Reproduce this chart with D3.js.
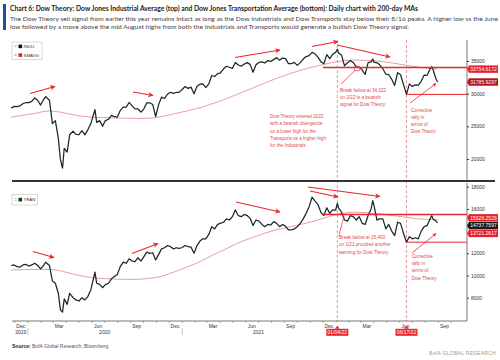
<!DOCTYPE html>
<html><head><meta charset="utf-8">
<script src="https://cdn.jsdelivr.net/npm/d3@7"></script>
<style>body{margin:0;background:#fff}svg{display:block}</style>
</head><body>
<svg id="c" width="500" height="360"></svg>
<script>
// ---------------- DATA ----------------
const dates = ["2019-11-22","2019-11-29","2019-12-06","2019-12-13","2019-12-20","2019-12-27","2020-01-03","2020-01-10","2020-01-17","2020-01-24","2020-01-31","2020-02-07","2020-02-12","2020-02-21","2020-02-28","2020-03-06","2020-03-13","2020-03-18","2020-03-23","2020-03-27","2020-04-03","2020-04-09","2020-04-17","2020-04-24","2020-05-01","2020-05-08","2020-05-15","2020-05-22","2020-05-29","2020-06-08","2020-06-12","2020-06-19","2020-06-26","2020-07-02","2020-07-10","2020-07-17","2020-07-24","2020-07-31","2020-08-07","2020-08-14","2020-08-21","2020-08-28","2020-09-04","2020-09-11","2020-09-18","2020-09-25","2020-10-02","2020-10-09","2020-10-16","2020-10-23","2020-10-30","2020-11-06","2020-11-13","2020-11-20","2020-11-27","2020-12-04","2020-12-11","2020-12-18","2020-12-24","2020-12-31","2021-01-08","2021-01-15","2021-01-22","2021-01-29","2021-02-05","2021-02-12","2021-02-19","2021-02-26","2021-03-05","2021-03-12","2021-03-19","2021-03-26","2021-04-01","2021-04-09","2021-04-16","2021-04-23","2021-04-30","2021-05-07","2021-05-14","2021-05-21","2021-05-28","2021-06-04","2021-06-11","2021-06-18","2021-06-25","2021-07-02","2021-07-09","2021-07-16","2021-07-23","2021-07-30","2021-08-06","2021-08-13","2021-08-20","2021-08-27","2021-09-03","2021-09-10","2021-09-17","2021-09-24","2021-10-01","2021-10-08","2021-10-15","2021-10-22","2021-10-29","2021-11-05","2021-11-12","2021-11-19","2021-11-26","2021-12-03","2021-12-10","2021-12-17","2021-12-23","2021-12-31","2022-01-04","2022-01-07","2022-01-14","2022-01-21","2022-01-28","2022-02-04","2022-02-11","2022-02-18","2022-02-25","2022-03-04","2022-03-11","2022-03-18","2022-03-25","2022-03-29","2022-04-01","2022-04-08","2022-04-14","2022-04-22","2022-04-29","2022-05-06","2022-05-13","2022-05-20","2022-05-27","2022-06-03","2022-06-10","2022-06-17","2022-06-24","2022-07-01","2022-07-08","2022-07-15","2022-07-22","2022-07-29","2022-08-05","2022-08-12","2022-08-16","2022-08-19","2022-08-26","2022-08-30"];
const induValues = [27766,28051,28015,28135,28455,28645,28634,28823,29348,28989,28256,29102,29551,28992,25409,25865,23185,19899,18591,21637,21053,23719,24242,23775,23724,24331,23685,24465,25383,27572,25605,25871,25016,25827,26075,26672,26470,26428,27433,27931,27930,28654,28133,27666,27657,27174,27683,28587,28606,28336,26502,28323,29480,29263,29910,30218,30046,30179,30200,30606,31098,30814,30997,29983,31148,31458,31494,30932,31496,32779,32628,33072,33153,33801,34200,34043,33875,34778,34382,34208,34529,34756,34480,33290,34433,34786,34870,34688,35062,34935,35208,35515,35120,35455,35369,34607,34584,34798,34326,34746,35295,35677,35820,36328,36100,35602,34899,34580,35971,35365,35951,36338,36800,36231,35912,34265,34725,35089,34738,34079,34059,33615,32944,34754,34861,35294,34818,34721,34451,33811,32977,32900,32197,31262,33213,32900,31393,29888,31501,31097,31338,31289,31899,32845,32803,33761,34152,33707,32283,31786];
const tranValues = [10900,10950,10800,10750,10950,11000,10850,10950,11100,10900,10600,10900,11200,10900,9500,9300,8400,6900,6700,7900,7400,8400,8000,7800,7700,8000,7800,8100,8700,10300,9300,9200,8900,9150,9300,9700,9900,10100,10800,11200,11100,11500,11300,11250,11600,11300,11700,12100,12000,12050,11400,11900,12400,12500,12700,12600,12400,12500,12450,12500,12700,12600,12550,12000,12700,13100,13300,13300,13700,14400,14200,14600,14700,14800,15100,15000,15300,15900,15400,15300,15500,15400,15150,14500,15000,14900,14600,14400,14600,14550,14850,14700,14400,14600,14450,14100,14100,14200,14400,14700,15100,15600,16200,17050,16700,16400,15700,15400,16100,15600,15900,15900,16500,16100,15700,15000,14900,15400,15300,15000,15300,14700,14600,15400,16000,16750,16300,15000,15100,15100,14200,14600,14000,13600,14800,14700,13800,13000,13500,13300,13400,13300,14000,14400,14500,15100,15400,15100,14900,14738];
const smaDates = ["2019-11-22","2019-12-15","2020-01-15","2020-02-20","2020-03-20","2020-04-15","2020-05-15","2020-06-15","2020-07-15","2020-08-15","2020-09-15","2020-10-15","2020-11-15","2020-12-15","2021-01-15","2021-02-15","2021-03-15","2021-04-15","2021-05-15","2021-06-15","2021-07-15","2021-08-15","2021-09-15","2021-10-15","2021-11-15","2021-12-15","2022-01-15","2022-02-15","2022-03-15","2022-04-15","2022-05-15","2022-06-15","2022-07-15","2022-08-15","2022-08-30"];
const induSma = [26400,26650,26950,27350,27150,26800,26500,26350,26300,26250,26200,26250,26500,26950,27400,27900,28500,29200,30000,30800,31600,32400,33100,33700,34200,34650,35000,35150,35100,34950,34700,34350,34050,33850,33755];
const tranSma = [10500,10520,10550,10550,10400,10150,9900,9750,9700,9650,9650,9750,9950,10350,10800,11300,11850,12400,12950,13400,13800,14150,14400,14650,14950,15300,15600,15700,15650,15550,15400,15250,15100,15050,15026];
const induTicks = [20000,25000,30000,35000];
const tranTicks = [8000,10000,12000,16000,18000];
const monthLabels = ["Dec","Mar","Jun","Sep","Dec","Mar","Jun","Sep","Dec","Mar","Jun","Sep"];
const monthLabelDates = ["2019-12-15","2020-03-15","2020-06-15","2020-09-15","2020-12-15","2021-03-15","2021-06-15","2021-09-15","2021-12-15","2022-03-15","2022-06-15","2022-09-15"];
const yearLabels = ["2019","2020","2021"];
const yearLabelDates = ["2019-12-15","2020-07-01","2021-07-01"];
const yearSepDates = ["2020-01-01","2021-01-01","2022-01-01"];
const flagDates = ["2022-01-04","2022-06-17"];
const flagLabels = ["01/04/22","06/17/22"];
const induLevels = [{from:"2021-12-01", v:34022, w:1.5},{from:"2022-06-17", v:29888, w:1}];
const tranLevels = [{from:"2021-12-01", v:15493, w:1.5},{from:"2022-06-17", v:13000, w:1}];
const induLast = [{v:33754.6172, t:"33754.6172", c:"#e8202a"},{v:31785.9297, t:"31785.9297", c:"#b5121b"}];
const tranLast = [{v:15026.2529, t:"15026.2529", c:"#e8202a"},{v:14737.7597, t:"14737.7597", c:"#1b1b1b"},{v:13721.2617, t:"13721.2617", c:"#e8202a"}];

const titleText = "Chart 6: Dow Theory: Dow Jones Industrial Average (top) and Dow Jones Transportation Average (bottom): Daily chart with 200-day MAs";
const subLines = ["The Dow Theory sell signal from earlier this year remains intact as long as the Dow Industrials and Dow Transports stay below their 8/16 peaks. A higher low vs the June",
"low followed by a move above the mid August highs from both the Industrials and Transports would generate a bullish Dow Theory signal."];
const noteDivergence = ["Dow Theory entered 2022","with a bearish divergence","on a lower high for the","Transports vs a higher high","for the Industrials"];
const noteBreakIndu = ["Break below at 34,022","on 2/22 is a bearish","signal for Dow Theory."];
const noteCorrective = ["Corrective","rally in","terms of","Dow Theory"];
const noteBreakTran = ["Break below at 15,493","on 1/21 provided another","warning for Dow Theory."];

// ---------------- DRAW ----------------
const P = d3.utcParse("%Y-%m-%d");
const svg = d3.select("#c");
const RED = "#e8262d", NOTE = "#e0474c";

const x = d3.scaleUtc().domain([P("2019-12-15"), P("2022-09-15")]).range([20.8, 444.4]);
const yTop = d3.scaleLinear().domain([20000, 35000]).range([159, 61]);
const yBot = d3.scaleLinear().domain([8000, 18000]).range([297.7, 186.7]);
const AX = 467;

const defs = svg.append("defs");
defs.append("marker").attr("id","ah").attr("viewBox","0 0 10 10").attr("refX",9).attr("refY",5)
  .attr("markerWidth",5).attr("markerHeight",5).attr("orient","auto")
  .append("path").attr("d","M0,0 L10,5 L0,10 L3,5 Z").attr("fill",RED);

// title block
svg.append("rect").attr("x",3).attr("y",4).attr("width",3).attr("height",26).attr("fill","#1f4fa0");
svg.append("text").attr("x",10).attr("y",11).attr("font-family","Lato, sans-serif").attr("font-weight","bold")
  .attr("font-size",7.2).attr("fill","#1a1a1a").attr("textLength",408).attr("lengthAdjust","spacingAndGlyphs").text(titleText);
const subW = [488, 399];
subLines.forEach((t,i)=>svg.append("text").attr("x",10).attr("y",20.5+i*8.5).attr("font-family","Lato, sans-serif")
  .attr("font-size",6.3).attr("fill","#444").attr("textLength",subW[i]).attr("lengthAdjust","spacingAndGlyphs").text(t));

const induData = dates.map((d,i)=>({d:P(d), v:induValues[i]}));
const tranData = dates.map((d,i)=>({d:P(d), v:tranValues[i]}));
const induSmaData = smaDates.map((d,i)=>({d:P(d), v:induSma[i]}));
const tranSmaData = smaDates.map((d,i)=>({d:P(d), v:tranSma[i]}));

flagDates.forEach(f=>svg.append("line").attr("x1",x(P(f))).attr("x2",x(P(f))).attr("y1",40).attr("y2",321)
  .attr("stroke","#e77a7e").attr("stroke-width",0.8).attr("stroke-dasharray","3,2"));

function panel(data, sma, y){
  svg.append("path").datum(sma).attr("fill","none").attr("stroke","#e8909a").attr("stroke-width",0.9)
    .attr("d", d3.line().x(d=>x(d.d)).y(d=>y(d.v)).curve(d3.curveMonotoneX));
  svg.append("path").datum(data).attr("fill","none").attr("stroke","#1c2826").attr("stroke-width",1.25)
    .attr("stroke-linejoin","round").attr("d", d3.line().x(d=>x(d.d)).y(d=>y(d.v)));
}
panel(induData, induSmaData, yTop);
panel(tranData, tranSmaData, yBot);

induLevels.forEach(l=>svg.append("line").attr("x1",x(P(l.from))).attr("x2",AX).attr("y1",yTop(l.v)).attr("y2",yTop(l.v))
  .attr("stroke",RED).attr("stroke-width",l.w));
tranLevels.forEach(l=>svg.append("line").attr("x1",x(P(l.from))).attr("x2",AX).attr("y1",yBot(l.v)).attr("y2",yBot(l.v))
  .attr("stroke",RED).attr("stroke-width",l.w));

svg.append("line").attr("x1",12).attr("x2",495).attr("y1",181).attr("y2",181).attr("stroke","#333").attr("stroke-width",2);

function rightAxis(y, ticks, y0, y1){
  svg.append("line").attr("x1",AX).attr("x2",AX).attr("y1",y0).attr("y2",y1).attr("stroke","#555").attr("stroke-width",0.8);
  const g = svg.append("g").attr("transform",`translate(${AX},0)`)
    .call(d3.axisRight(y).tickValues(ticks).tickSize(2).tickPadding(2).tickFormat(d3.format("d")));
  g.select(".domain").remove();
  g.selectAll("line").attr("stroke","#333");
  g.selectAll("text").attr("font-family","Liberation Sans, Arial, sans-serif").attr("font-size",5).attr("fill","#333");
}
rightAxis(yTop, induTicks, 40, 180);
rightAxis(yBot, tranTicks, 183, 321);

svg.append("line").attr("x1",12).attr("x2",AX).attr("y1",321).attr("y2",321).attr("stroke","#555").attr("stroke-width",0.8);
const months = d3.utcMonth.range(P("2019-12-01"), P("2022-10-02"));
svg.append("g").selectAll("line").data(months).join("line").attr("x1",d=>x(d)).attr("x2",d=>x(d))
  .attr("y1",321).attr("y2",323).attr("stroke","#777").attr("stroke-width",0.6);
monthLabels.forEach((t,i)=>svg.append("text").attr("x",x(P(monthLabelDates[i]))).attr("y",327.5).attr("text-anchor","middle")
  .attr("font-family","Liberation Sans, Arial, sans-serif").attr("font-size",5).attr("fill","#333").text(t));
yearSepDates.forEach(d=>svg.append("line").attr("x1",x(P(d))).attr("x2",x(P(d))).attr("y1",328).attr("y2",335).attr("stroke","#999").attr("stroke-width",0.6));
yearLabels.forEach((t,i)=>svg.append("text").attr("x",x(P(yearLabelDates[i]))).attr("y",333.5).attr("text-anchor","middle")
  .attr("font-family","Liberation Sans, Arial, sans-serif").attr("font-size",5).attr("fill","#333").text(t));

flagDates.forEach((f,i)=>{
  const cx = x(P(f));
  svg.append("path").attr("d",`M${cx},325.5 L${cx-2.2},328.8 L${cx+2.2},328.8 Z`).attr("fill",RED);
  svg.append("rect").attr("x",cx-11).attr("y",328.8).attr("width",22).attr("height",7).attr("fill",RED);
  svg.append("text").attr("x",cx).attr("y",334.2).attr("text-anchor","middle").attr("font-family","Liberation Sans, Arial, sans-serif")
    .attr("font-size",5).attr("fill","#fff").text(flagLabels[i]);
});

function lastLabels(items, y){
  const arr = items.map(o=>({...o, y:y(o.v)})).sort((a,b)=>a.y-b.y);
  const orig = d3.mean(arr, d=>d.y);
  for(let i=1;i<arr.length;i++) if(arr[i].y-arr[i-1].y<7.8) arr[i].y=arr[i-1].y+7.8;
  const shift = orig - d3.mean(arr,d=>d.y);
  if(arr.length>2) arr.forEach(d=>d.y+=shift);
  arr.forEach(d=>{
    svg.append("path").attr("d",`M${AX},${d.y} L${AX+2},${d.y-3.7} L${AX+2},${d.y+3.7} Z`).attr("fill",d.c);
    svg.append("rect").attr("x",AX+2).attr("y",d.y-3.7).attr("width",29).attr("height",7.4).attr("fill",d.c);
    svg.append("text").attr("x",AX+16.5).attr("y",d.y+1.8).attr("text-anchor","middle").attr("font-family","Liberation Sans, Arial, sans-serif")
      .attr("font-size",5).attr("fill","#fff").text(d.t);
  });
}
lastLabels(induLast, yTop);
lastLabels(tranLast, yBot);

function legend(x0,y0,w,h,items){
  svg.append("rect").attr("x",x0).attr("y",y0).attr("width",w).attr("height",h).attr("fill","#fff").attr("stroke","#c8c8c8").attr("stroke-width",0.7);
  items.forEach((it,i)=>{
    const cy = y0+ (h/items.length)*(i+0.5);
    svg.append("rect").attr("x",x0+2.3).attr("y",cy-1.2).attr("width",2.5).attr("height",0.5).attr("fill","#999");
    svg.append("rect").attr("x",x0+2.3).attr("y",cy+0.3).attr("width",2.5).attr("height",0.5).attr("fill","#999");
    svg.append("rect").attr("x",x0+6.5).attr("y",cy-1.8).attr("width",3.6).attr("height",3.6).attr("fill",it.c);
    svg.append("text").attr("x",x0+11.5).attr("y",cy+1.6).attr("font-family","Liberation Sans, Arial, sans-serif").attr("font-size",4.4).attr("fill","#333").text(it.t);
  });
}
legend(12,42,30,17.5,[{t:"INDU",c:"#111"},{t:"SMAVG",c:"#e8202a"}]);
legend(12,194.3,25.5,10.7,[{t:"TRAN",c:"#113322"}]);

function note(lines, x0, yc, lh){
  lines.forEach((t,i)=>{
    const tx = svg.append("text").attr("x",x0).attr("y",yc+i*lh+2).attr("font-family","Liberation Sans, Arial, sans-serif")
      .attr("font-size",5.8).attr("fill",NOTE).text(t);
    const w = tx.node().getComputedTextLength();
    tx.attr("textLength", w*0.8).attr("lengthAdjust","spacingAndGlyphs");
  });
}
note(noteDivergence, 270, 116, 7.3);
note(noteBreakIndu, 340, 90, 7.1);
note(noteCorrective, 411, 110, 7.1);
note(noteBreakTran, 339, 236.7, 7.5);
note(noteCorrective, 411.7, 256, 7.2);

function arrow(x1,y1,x2,y2,head=true,w=1.1){
  const l = svg.append("line").attr("x1",x1).attr("y1",y1).attr("x2",x2).attr("y2",y2).attr("stroke",RED).attr("stroke-width",w);
  if(head) l.attr("marker-end","url(#ah)");
}
arrow(30,93.5,55,86.5);
arrow(133,92,153,95.5);
arrow(235,57.5,280,50);
arrow(312,46.5,338,41.5);
arrow(337,45,390,57);
arrow(410,103,436,83.5,true,0.8);
arrow(341,84,355,70.5,false,0.7);
svg.append("ellipse").attr("cx",357).attr("cy",68.5).attr("rx",3).attr("ry",2.4).attr("fill","none").attr("stroke",RED).attr("stroke-width",0.7);
arrow(33,251.5,54,257.5);
arrow(132,253.5,158,243.5);
arrow(236,202,280,212);
arrow(308,187,380,196.5);
arrow(310,191,338,197);
arrow(412,253,436,233.5,true,0.8);
arrow(339,235,344,216,false,0.7);

const src = svg.append("text").attr("x",12).attr("y",348).attr("font-family","Liberation Sans, Arial, sans-serif").attr("font-size",5).attr("fill","#555");
src.append("tspan").attr("font-weight","bold").attr("fill","#222").text("Source:");
src.append("tspan").text(" BofA Global Research, Bloomberg");
svg.append("text").attr("x",496).attr("y",355).attr("text-anchor","end").attr("font-family","Liberation Sans, Arial, sans-serif")
  .attr("font-size",5).attr("fill","#9a9a9a").attr("letter-spacing",0.3).text("BofA GLOBAL RESEARCH");
</script>
</body></html>
